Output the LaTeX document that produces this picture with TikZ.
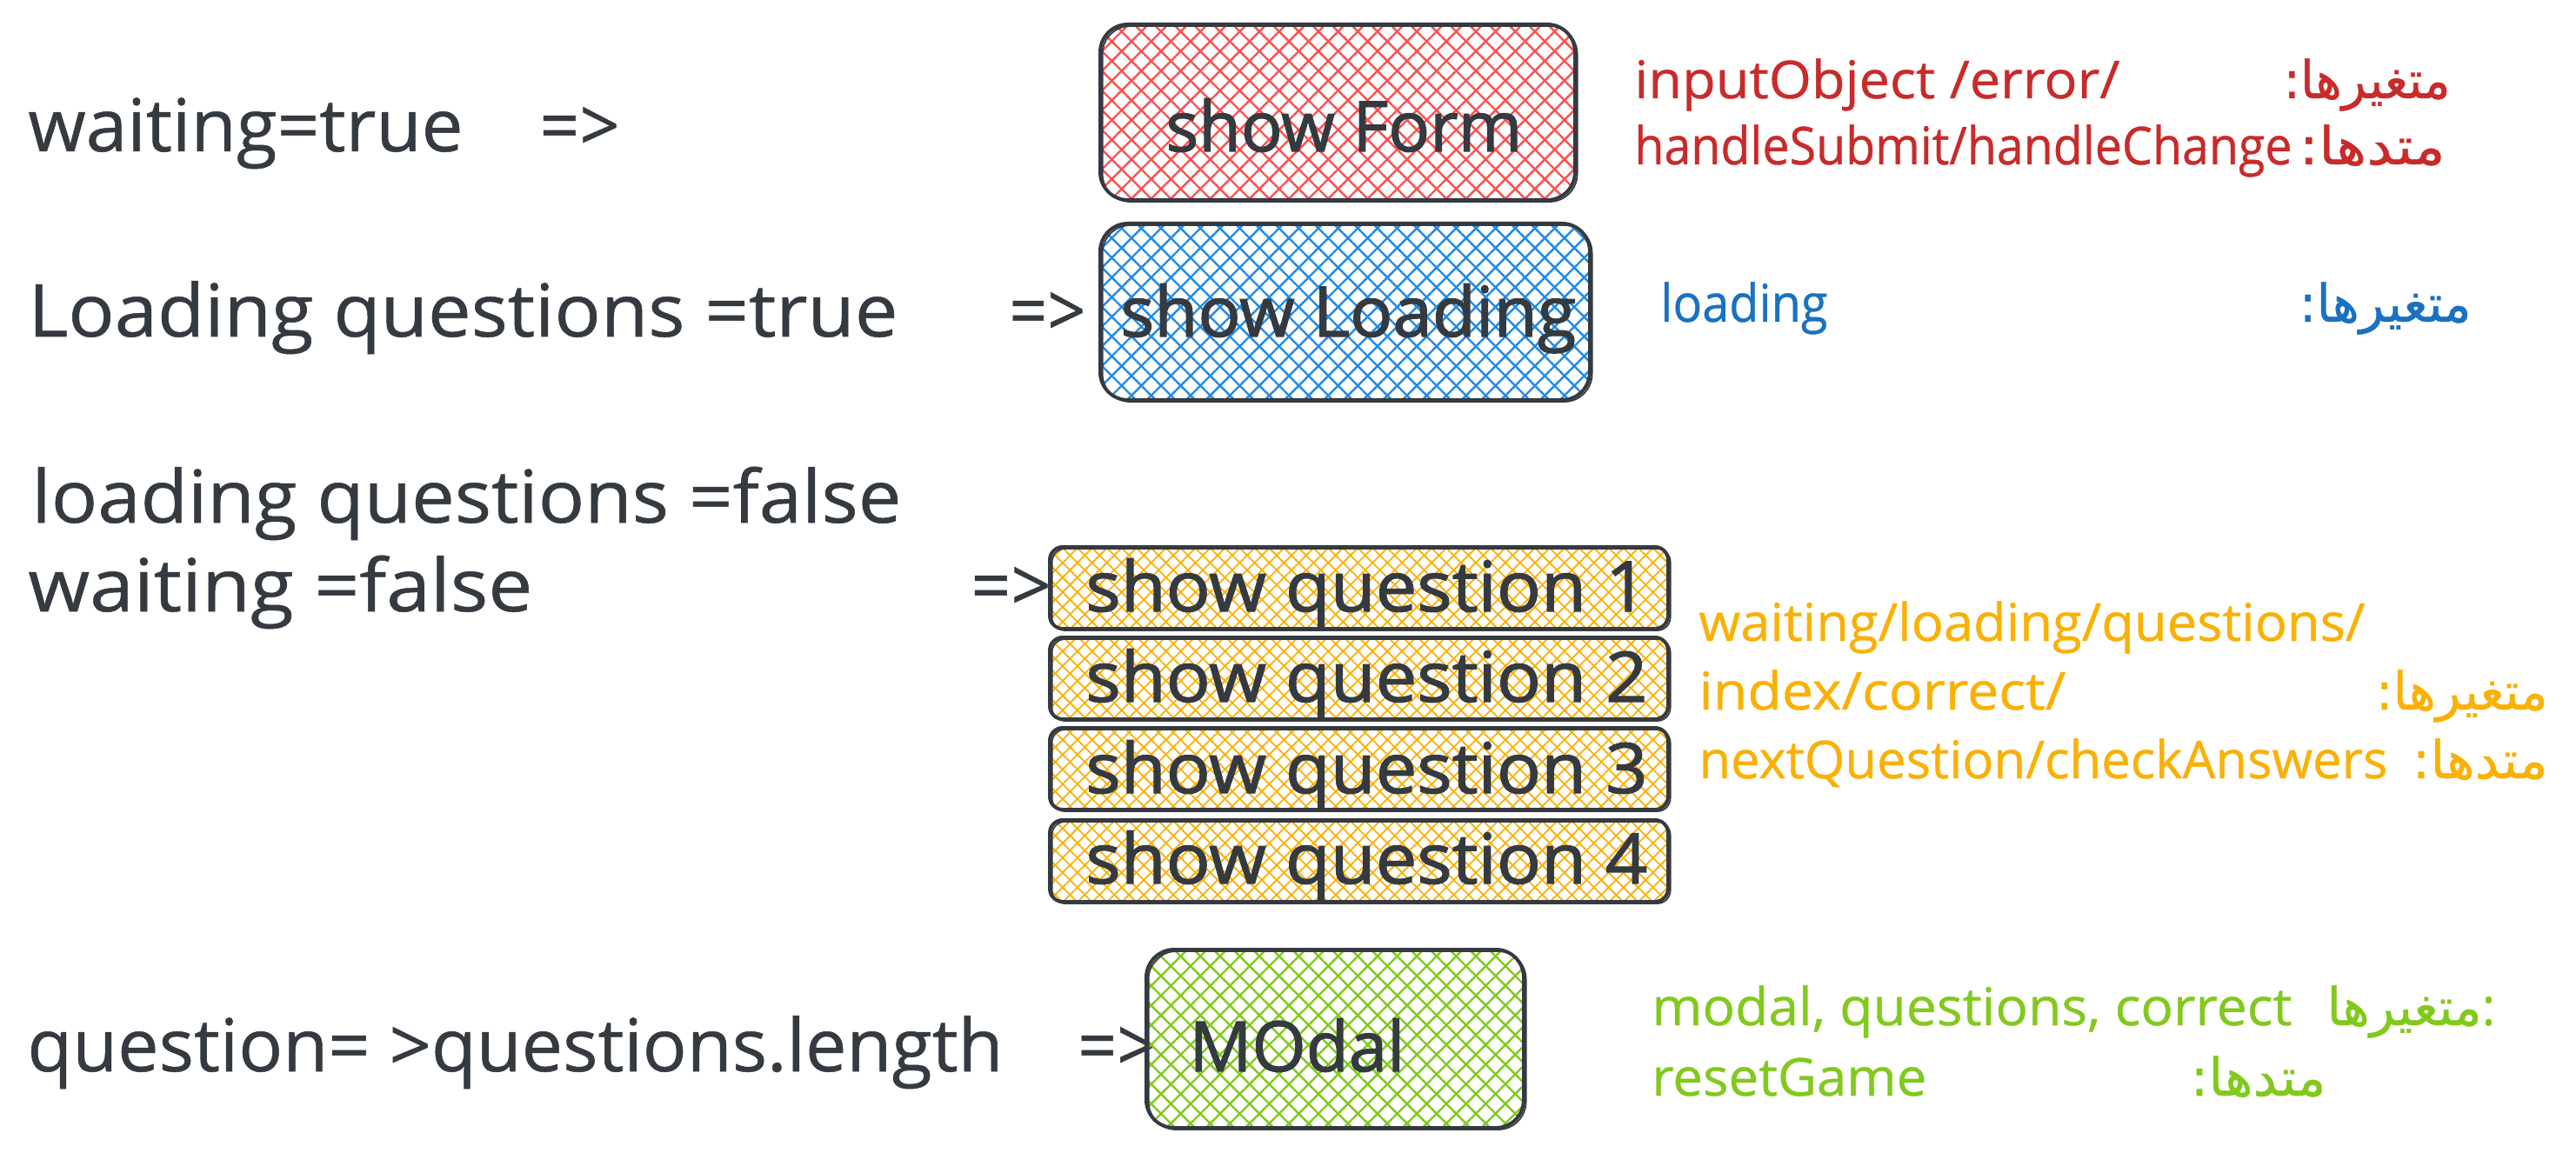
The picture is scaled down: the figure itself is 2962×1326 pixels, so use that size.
\documentclass[tikz,border=0pt]{standalone}
\usepackage{fontspec}
\usepackage{graphicx}
\setmainfont[FakeBold=0.6]{Open Sans}
\newfontfamily\boxfont[FakeBold=1.6]{Open Sans}
\newfontfamily\arabicfont[Script=Arabic,FakeBold=0.6]{DejaVu Sans}
\TeXXeTstate=1
\usetikzlibrary{patterns.meta}
\definecolor{dark}{HTML}{343A40}
\definecolor{redfill}{HTML}{FA5252}
\definecolor{redtext}{HTML}{C92A2A}
\definecolor{bluefill}{HTML}{228BE6}
\definecolor{bluetext}{HTML}{1971C2}
\definecolor{orangefill}{HTML}{FAB005}
\definecolor{orangetext}{HTML}{FAB005}
\definecolor{greenfill}{HTML}{82C91E}
\definecolor{greentext}{HTML}{82C91E}
\newcommand{\fw}[2]{\resizebox{#1}{\height}{#2}}
\newcommand{\fa}[1]{{\arabicfont\beginR #1\endR}}
\tikzset{
  box/.style={draw=dark, line width=2pt, rounded corners=16pt, inner sep=0pt,
    postaction={draw=dark, line width=0.9pt, transform canvas={xshift=1.3pt, yshift=-1pt}}},
  qbox/.style={box, rounded corners=7.5pt},
  hatch/.style n args={3}{
    preaction={pattern={Lines[angle=45,distance=#2,line width=#3]}, pattern color=#1},
    preaction={pattern={Lines[angle=-45,distance=#2,line width=#3]}, pattern color=#1}},
  lefttxt/.style={font=\fontsize{42}{50}\selectfont, text=dark, inner sep=0pt, anchor=base west},
  boxtxt/.style={font=\boxfont\fontsize{40}{48}\selectfont, text=dark, inner sep=0pt, anchor=base west},
  righttxt/.style={font=\fontsize{30}{36}\selectfont, inner sep=0pt, anchor=base west},
  rightfa/.style={font=\fontsize{30}{36}\selectfont, inner sep=0pt, anchor=base east},
}
\begin{document}
\begin{tikzpicture}[x=0.5pt,y=-0.5pt]
\fill[white] (0,0) rectangle (2962,1326);
\useasboundingbox (0,0) rectangle (2962,1326);

% left conditions
\node[lefttxt] (w1) at (32,174) {\fw{250pt}{waiting=true}};
\node[lefttxt] (a1) at (620,174) {\fw{46pt}{=>}};
\node[lefttxt] (l1) at (32,387) {\fw{500pt}{Loading questions =true}};
\node[lefttxt] (a2) at (1160,387) {\fw{44pt}{=>}};
\node[lefttxt] (l2) at (36,601) {\fw{500pt}{loading questions =false}};
\node[lefttxt] (l3) at (32,703) {\fw{290pt}{waiting =false}};
\node[lefttxt] (a3) at (1116,703) {\fw{46pt}{=>}};
\node[lefttxt] (l4) at (31,1232) {\fw{561pt}{question= >questions.length}};
\node[lefttxt] (a4) at (1239,1232) {\fw{45pt}{=>}};

% boxes
\node[box, hatch={redfill}{8pt}{1.2pt}, minimum width=273pt, minimum height=101pt] (form) at (1538,129) {};
\node[box, hatch={bluefill}{8pt}{1.2pt}, minimum width=281.5pt, minimum height=101.5pt] (load) at (1546.5,358.5) {};
\node[qbox, hatch={orangefill}{6pt}{0.9pt}, minimum width=355.5pt, minimum height=47pt] (q1) at (1562.5,676) {};
\node[qbox, hatch={orangefill}{6pt}{0.9pt}, minimum width=355.5pt, minimum height=47pt] (q2) at (1562.5,780) {};
\node[qbox, hatch={orangefill}{6pt}{0.9pt}, minimum width=355.5pt, minimum height=47pt] (q3) at (1562.5,884) {};
\node[qbox, hatch={orangefill}{6pt}{0.9pt}, minimum width=355.5pt, minimum height=47pt] (q4) at (1562.5,990) {};
\node[box, hatch={greenfill}{8pt}{1.2pt}, minimum width=217pt, minimum height=102.5pt] (modal) at (1535,1194.5) {};

% box texts
\node[boxtxt] (tform) at (1340,174) {\fw{205pt}{show Form}};
\node[boxtxt] (tload) at (1288,387) {\fw{262pt}{show Loading}};
\node[boxtxt] (tq1) at (1248,703) {\fw{323pt}{show question 1}};
\node[boxtxt] (tq2) at (1248,807) {\fw{323pt}{show question 2}};
\node[boxtxt] (tq3) at (1248,912) {\fw{323pt}{show question 3}};
\node[boxtxt] (tq4) at (1248,1016) {\fw{323pt}{show question 4}};
\node[boxtxt] (tmodal) at (1367,1232) {\fw{124pt}{MOdal}};

% right notes: red
\node[righttxt, text=redtext] (r1) at (1879,113) {\fw{279pt}{inputObject /error/}};
\node[rightfa, text=redtext] (r1p) at (2818,113) {\fw{96pt}{\fa{متغیرها:}}};
\node[righttxt, text=redtext] (r2) at (1879,189) {\fw{378pt}{handleSubmit/handleChange}};
\node[rightfa, text=redtext] (r2p) at (2812,189) {\fw{84pt}{\fa{متدها:}}};
% blue
\node[righttxt, text=bluetext] (b1) at (1909,370) {\fw{96pt}{loading}};
\node[rightfa, text=bluetext] (b1p) at (2842,370) {\fw{99pt}{\fa{متغیرها:}}};
% orange
\node[righttxt, text=orangetext] (o1) at (1953,737) {\fw{383pt}{waiting/loading/questions/}};
\node[righttxt, text=orangetext] (o2) at (1953,816) {\fw{211pt}{index/correct/}};
\node[rightfa, text=orangetext] (o2p) at (2930,816) {\fw{99pt}{\fa{متغیرها:}}};
\node[righttxt, text=orangetext] (o3) at (1953,895) {\fw{396pt}{nextQuestion/checkAnswers}};
\node[rightfa, text=orangetext] (o3p) at (2930,895) {\fw{78pt}{\fa{متدها:}}};
% green
\node[righttxt, text=greentext] (g1) at (1899,1179) {\fw{368pt}{modal, questions, correct}};
\node[righttxt, text=greentext] (g1p) at (2675,1179) {\fw{97pt}{\fa{متغیرها}:}};
\node[righttxt, text=greentext] (g2) at (1899,1260) {\fw{158pt}{resetGame}};
\node[rightfa, text=greentext] (g2p) at (2675,1260) {\fw{78pt}{\fa{متدها:}}};
\end{tikzpicture}
\end{document}
